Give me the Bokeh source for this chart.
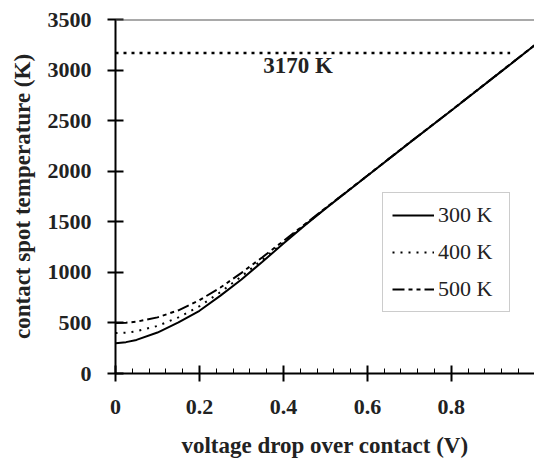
from bokeh.plotting import figure
from bokeh.models import FixedTicker, Span, Legend, LegendItem, Range1d
from bokeh.core.properties import value
from bokeh.embed import file_html
from bokeh.resources import INLINE

# ---- data ----
voltage = [0, 0.025, 0.05, 0.1, 0.15, 0.2, 0.25, 0.3, 0.35, 0.4, 0.45, 0.5, 0.6, 0.7, 0.8, 0.9, 1.0]
t_300 = [300, 310, 332, 405, 505, 620, 770, 930, 1105, 1285, 1462, 1630, 1955, 2280, 2600, 2925, 3250]
t_400 = [400, 404, 418, 470, 555, 665, 805, 960, 1125, 1295, 1466, 1632, 1956, 2281, 2601, 2926, 3251]
t_500 = [500, 502, 512, 555, 625, 725, 850, 995, 1150, 1310, 1472, 1635, 1957, 2282, 2602, 2927, 3252]
series_labels = ["300 K", "400 K", "500 K"]

limit_temp = 3170
limit_x = [0, 0.94]
limit_label = "3170 K"
limit_label_x = 0.352

x_ticks = [0, 0.2, 0.4, 0.6, 0.8]
x_tick_labels = ["0", "0.2", "0.4", "0.6", "0.8"]
x_minor = [0.04, 0.08, 0.12, 0.16, 0.24, 0.28, 0.32, 0.36, 0.44, 0.48, 0.52, 0.56,
           0.64, 0.68, 0.72, 0.76, 0.84, 0.88, 0.92, 0.96]
y_ticks = [0, 500, 1000, 1500, 2000, 2500, 3000, 3500]

FONT = "Liberation Serif"

p = figure(width=534, height=466, output_backend="svg", toolbar_location=None,
           x_range=Range1d(0, 0.998), y_range=Range1d(0, 3500),
           min_border_left=115, min_border_right=0, min_border_top=19, min_border_bottom=93)
p.background_fill_color = "white"
p.border_fill_color = "white"
p.outline_line_color = None
p.xgrid.visible = False
p.ygrid.visible = False

# axes
for ax in (p.xaxis[0], p.yaxis[0]):
    ax.axis_line_color = "black"
    ax.axis_line_width = 2
    ax.major_tick_line_color = "black"
    ax.major_tick_line_width = 2
    ax.major_tick_in = 8
    ax.major_tick_out = 8
    ax.major_label_text_font = FONT
    ax.major_label_text_font_style = "bold"
    ax.major_label_text_font_size = "22px"
    ax.major_label_text_color = "#222"
    ax.axis_label_text_font = FONT
    ax.axis_label_text_font_style = "bold"
    ax.axis_label_text_font_size = "23px"
    ax.axis_label_text_color = "#222"

p.xaxis.ticker = FixedTicker(ticks=x_ticks, minor_ticks=x_minor)
p.xaxis.major_label_overrides = {t: l for t, l in zip(x_ticks, x_tick_labels)}
p.xaxis.minor_tick_line_color = "black"
p.xaxis.minor_tick_line_width = 1
p.xaxis.minor_tick_in = 5
p.xaxis.minor_tick_out = 0
p.xaxis.major_label_standoff = 18
p.xaxis.axis_label = "voltage drop over contact (V)"
p.xaxis.axis_label_standoff = 16

p.yaxis.ticker = FixedTicker(ticks=y_ticks)
p.yaxis.minor_tick_line_color = None
p.yaxis.major_label_standoff = 16
p.yaxis.axis_label = "contact spot temperature (K)"
p.yaxis.axis_label_standoff = 10

# top line at 3500
p.add_layout(Span(location=3500, dimension="width", line_color="#555", line_width=2))

# limit line and label
p.line(limit_x, [limit_temp, limit_temp], line_color="black", line_width=2.5, line_dash="3 5")
p.text(x=[limit_label_x], y=[limit_temp], text=[limit_label], text_font=value(FONT),
       text_font_style="bold", text_font_size="23px", text_baseline="top",
       text_color="#222", y_offset=0)

r300 = p.line(voltage, t_300, line_color="black", line_width=2)
r400 = p.line(voltage, t_400, line_color="black", line_width=2, line_dash="2 6")
r500 = p.line(voltage, t_500, line_color="black", line_width=2, line_dash="12 4 4 4 4 4")

legend = Legend(items=[LegendItem(label=series_labels[0], renderers=[r300]),
                       LegendItem(label=series_labels[1], renderers=[r400]),
                       LegendItem(label=series_labels[2], renderers=[r500])],
                location=(267, 61))
legend.label_text_font = FONT
legend.label_text_font_size = "22px"
legend.label_text_color = "#222"
legend.glyph_width = 42
legend.label_standoff = 4
legend.label_width = 62
legend.spacing = 11
legend.padding = 9
legend.margin = 0
legend.border_line_color = "#999"
legend.border_line_width = 1
legend.background_fill_alpha = 1
p.add_layout(legend, "center")

open("out.html", "w").write(file_html(p, INLINE))
